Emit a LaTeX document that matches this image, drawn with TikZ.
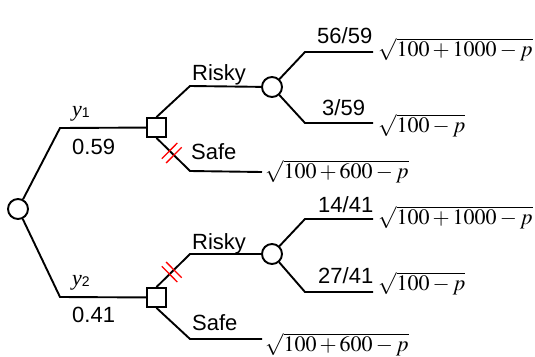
\documentclass[tikz,border=0pt]{standalone}
\usepackage{mathptmx}
\usepackage[no-math]{fontspec}
\setmainfont{Liberation Sans}
\newfontfamily\tms{Liberation Serif}
\usetikzlibrary{calc}
\begin{document}
\begin{tikzpicture}[x=1pt,y=-1pt,
  br/.style={line width=1.9pt},
  chance/.style={circle,draw,line width=1.9pt,minimum size=20pt,inner sep=0pt,fill=white},
  dec/.style={rectangle,draw,line width=1.9pt,minimum size=19pt,inner sep=0pt,fill=white},
  lbl/.style={font=\fontsize{22}{26}\selectfont,inner sep=0pt,anchor=base west},
  cut/.style={draw=red,line width=1.3pt}]
\useasboundingbox (0,0) rectangle (535,356);
% nodes
\node[chance] (root) at (18,209) {};
\node[dec] (d1) at (156.5,127.5) {};
\node[dec] (d2) at (156.5,297.5) {};
\node[chance] (c1) at (272,87) {};
\node[chance] (c2) at (272,254) {};
% corners
\coordinate (r1) at (60,128);
\coordinate (r2) at (60,297);
\coordinate (k1) at (190,86);
\coordinate (s1) at (190,171);
\coordinate (s1e) at (262,172);
\coordinate (k2) at (190,254);
\coordinate (s2) at (190,339);
\coordinate (s2e) at (262,339);
\coordinate (u1) at (305,52);
\coordinate (u1e) at (373,52);
\coordinate (v1) at (305,123);
\coordinate (v1e) at (373,123);
\coordinate (u2) at (305,219);
\coordinate (u2e) at (373,219);
\coordinate (v2) at (305,292);
\coordinate (v2e) at (373,292);
% branches
\draw[br] (root) -- (r1) -- (d1);
\draw[br] (root) -- (r2) -- (d2);
\draw[br] (d1.north) -- (k1) -- (c1);
\draw[br] (d1.south) -- (s1) -- (s1e);
\draw[br] (d2.north) -- (k2) -- (c2);
\draw[br] (d2.south) -- (s2) -- (s2e);
\draw[br] (c1) -- (u1) -- (u1e);
\draw[br] (c1) -- (v1) -- (v1e);
\draw[br] (c2) -- (u2) -- (u2e);
\draw[br] (c2) -- (v2) -- (v2e);
% cut marks
\foreach \f in {0.39,0.52}{
  \coordinate (m) at ($(d1.south)!\f!(s1)$);
  \draw[cut] ($(m)!11pt!90:(s1)$) -- ($(m)!11pt!-90:(s1)$);
  \coordinate (n) at ($(d2.north)!\f!(k2)$);
  \draw[cut] ($(n)!11pt!90:(k2)$) -- ($(n)!11pt!-90:(k2)$);
}
% labels
\node[lbl] (ly1) at (72,116) {{\tms\itshape y}\raisebox{-1.5pt}{\fontsize{14}{14}\selectfont 1}};
\node[lbl] (lp1) at (72,154) {0.59};
\node[lbl] (ly2) at (72,285) {{\tms\itshape y}\raisebox{-1.5pt}{\fontsize{14}{14}\selectfont 2}};
\node[lbl] (lp2) at (72,322) {0.41};
\node[lbl] (lr1) at (192,80) {Risky};
\node[lbl] (ls1) at (191,159) {Safe};
\node[lbl] (lr2) at (192,249) {Risky};
\node[lbl] (ls2) at (192,330) {Safe};
\node[lbl] (f1) at (317,43) {56/59};
\node[lbl] (f2) at (322,115) {3/59};
\node[lbl] (f3) at (318,212) {14/41};
\node[lbl] (f4) at (318,283) {27/41};
% payoffs
\node[lbl] (p1) at (378,56) {$\sqrt{100+1000-p}$};
\node[lbl] (p2) at (378,132) {$\sqrt{100-p}$};
\node[lbl] (p3) at (265,178) {$\sqrt{100+600-p}$};
\node[lbl] (p4) at (378,224) {$\sqrt{100+1000-p}$};
\node[lbl] (p5) at (378,290) {$\sqrt{100-p}$};
\node[lbl] (p6) at (265,351) {$\sqrt{100+600-p}$};
\end{tikzpicture}
\end{document}
